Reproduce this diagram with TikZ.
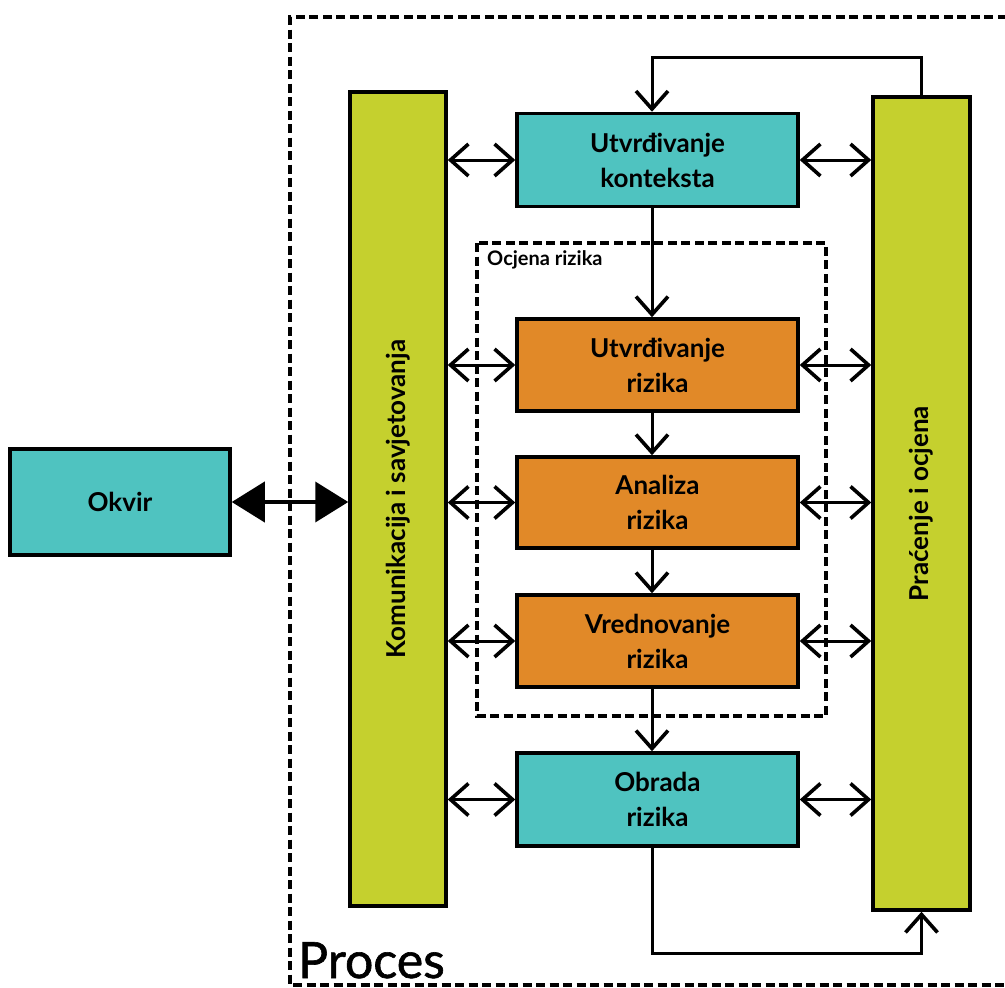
\documentclass[tikz,border=0pt]{standalone}
\usepackage{fontspec}
\usepackage{graphicx}
\setmainfont{Lato}
\newfontfamily\procfont{Lato}[FakeBold=1.2]
\usetikzlibrary{arrows.meta}
\definecolor{cyanbox}{RGB}{79,195,192}
\definecolor{orangebox}{RGB}{225,137,40}
\definecolor{olivebar}{RGB}{197,208,46}
\begin{document}
\begin{tikzpicture}[x=1pt,y=-1pt,
  box/.style={draw=black, line width=3.5pt, minimum width=281pt, minimum height=93pt,
    inner sep=0pt, align=center, font=\fontsize{26}{35}\selectfont\bfseries},
  bar/.style={draw=black, fill=olivebar, line width=3.5pt, inner sep=0pt,
    font=\fontsize{26}{30}\selectfont\bfseries},
  conn/.style={line width=3pt, -{Straight Barb[length=18pt,width=32pt,line width=3.6pt]}},
  dconn/.style={line width=3pt, {Straight Barb[length=18pt,width=32pt,line width=3.6pt]}-{Straight Barb[length=18pt,width=32pt,line width=3.6pt]}},
  dashbox/.style={line width=4pt, dash pattern=on 9pt off 4.5pt}
]
\useasboundingbox (0,0) rectangle (1005,988);

% dashed frames
\draw[dashbox] (1020,17) -- (290,17) -- (290,985) -- (1020,985);
\draw[dashbox] (477,243) rectangle (826,716);

% nodes
\node[box, fill=cyanbox, minimum width=220pt, minimum height=106pt] (okvir) at (120,502) {Okvir};
\node[bar, minimum width=96pt, minimum height=814pt] (kom) at (398,499) {\rotatebox{90}{Komunikacija i savjetovanja}};
\node[bar, minimum width=97pt, minimum height=813pt] (prac) at (921.5,503.5) {\rotatebox{90}{Praćenje i ocjena}};

\node[box, fill=cyanbox] (ctx) at (657.5,160) {Utvrđivanje\\konteksta};
\node[box, fill=orangebox, minimum height=92pt] (ur) at (657.5,365) {Utvrđivanje\\rizika};
\node[box, fill=orangebox, minimum height=91pt] (an) at (657.5,502.5) {Analiza\\rizika};
\node[box, fill=orangebox, minimum height=92pt] (vr) at (657.5,641) {Vrednovanje\\rizika};
\node[box, fill=cyanbox] (ob) at (657.5,799.5) {Obrada\\rizika};

\node[anchor=north west, inner sep=0pt, font=\fontsize{20}{24}\selectfont\bfseries] (ocj) at (487,250) {Ocjena rizika};
\node[anchor=base west, inner sep=0pt, font=\fontsize{50}{60}\procfont] (proc) at (298,978) {Proces};

\coordinate (vx) at (652,0);
\coordinate (topy) at (0,57);
\coordinate (boty) at (0,953);

% Okvir arrow
\draw[line width=4pt, {Triangle[length=33pt,width=40pt]}-{Triangle[length=33pt,width=40pt]}]
  (okvir.east) -- (kom.west |- okvir.east);

% horizontal double arrows
\foreach \b in {ctx,ur,an,vr,ob}{
  \draw[dconn] (kom.east |- \b.west) -- (\b.west);
  \draw[dconn] (\b.east) -- (prac.west |- \b.east);
}

% vertical chain
\draw[conn] (ctx.south -| vx) -- (ur.north -| vx);
\draw[conn] (ur.south -| vx) -- (an.north -| vx);
\draw[conn] (an.south -| vx) -- (vr.north -| vx);
\draw[conn] (vr.south -| vx) -- (ob.north -| vx);

% loops
\draw[conn] (prac.north) -- (prac.north |- topy) -| (ctx.north -| vx);
\draw[conn] (ob.south -| vx) |- (boty -| prac.south) -- (prac.south);
\end{tikzpicture}
\end{document}
